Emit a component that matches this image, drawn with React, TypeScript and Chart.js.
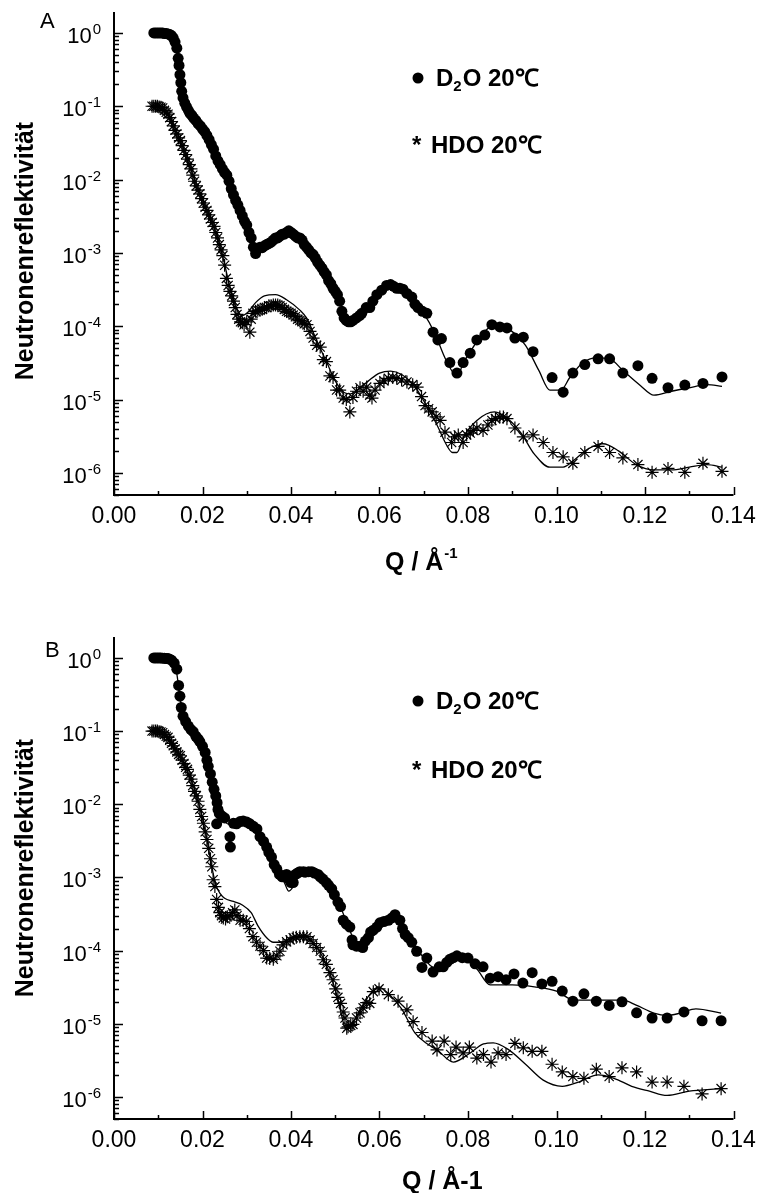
import React, { useEffect, useRef } from "react";
import { Chart, registerables } from "chart.js";
Chart.register(...registerables);

const FONT = "'Liberation Sans', Arial, Helvetica, sans-serif";

// ---------- Axis ticks ----------
const xTickValues = [0, 0.02, 0.04, 0.06, 0.08, 0.1, 0.12, 0.14];
const xTickLabels = ["0.00", "0.02", "0.04", "0.06", "0.08", "0.10", "0.12", "0.14"];
const xMinorValues = [0.01, 0.03, 0.05, 0.07, 0.09, 0.11, 0.13];
const yTickValues = [1, 1e-1, 1e-2, 1e-3, 1e-4, 1e-5, 1e-6];
const yTickExponents = ["0", "-1", "-2", "-3", "-4", "-5", "-6"];
const yMin = 5e-7;
const yMax = 1.93;

// ---------- Panel A ----------
const qD2O_A = [0.009, 0.0094, 0.0098, 0.0102, 0.0106, 0.011, 0.0114, 0.0118, 0.0122, 0.0126, 0.013, 0.0134, 0.0138, 0.0142, 0.0145, 0.0147, 0.0149, 0.0151, 0.0153, 0.0156, 0.016, 0.0164, 0.0168, 0.0172, 0.0176, 0.018, 0.0185, 0.019, 0.0195, 0.02, 0.0205, 0.021, 0.0215, 0.022, 0.0225, 0.023, 0.0235, 0.024, 0.0245, 0.025, 0.0255, 0.026, 0.0265, 0.027, 0.0275, 0.028, 0.0285, 0.029, 0.0295, 0.03, 0.0305, 0.031, 0.0315, 0.032, 0.0325, 0.033, 0.0335, 0.034, 0.0345, 0.035, 0.0355, 0.036, 0.0365, 0.037, 0.0375, 0.038, 0.0385, 0.039, 0.0395, 0.04, 0.0405, 0.041, 0.0415, 0.042, 0.0425, 0.043, 0.0435, 0.044, 0.0445, 0.045, 0.0455, 0.046, 0.0465, 0.047, 0.0475, 0.048, 0.0485, 0.049, 0.0495, 0.05, 0.0505, 0.051, 0.0515, 0.052, 0.0525, 0.053, 0.0535, 0.054, 0.0548, 0.0555, 0.056, 0.057, 0.0578, 0.0585, 0.0594, 0.0605, 0.0616, 0.0625, 0.0632, 0.0639, 0.0646, 0.0653, 0.0662, 0.0673, 0.068, 0.0687, 0.0697, 0.0707, 0.0721, 0.0732, 0.074, 0.0759, 0.0775, 0.0789, 0.0805, 0.082, 0.0838, 0.0854, 0.0872, 0.0888, 0.0906, 0.0925, 0.0947, 0.099, 0.1015, 0.1037, 0.1064, 0.1094, 0.112, 0.115, 0.1184, 0.1216, 0.1252, 0.129, 0.1331, 0.1374];
const rD2O_A = [1.0, 1.0, 1.0, 1.0, 1.0, 1.0, 0.98, 0.98, 0.97, 0.95, 0.92, 0.85, 0.75, 0.62, 0.45, 0.36, 0.27, 0.21, 0.16, 0.13, 0.11, 0.098, 0.088, 0.08, 0.075, 0.069, 0.064, 0.058, 0.054, 0.049, 0.045, 0.04, 0.035, 0.03, 0.026, 0.021, 0.018, 0.016, 0.014, 0.0125, 0.0115, 0.0095, 0.0075, 0.0062, 0.0052, 0.0045, 0.0038, 0.0032, 0.0027, 0.0024, 0.0019, 0.0016, 0.0012, 0.00098, 0.00115, 0.0012, 0.00118, 0.00125, 0.0013, 0.00135, 0.0014, 0.0015, 0.0016, 0.0016, 0.0017, 0.0018, 0.0018, 0.0019, 0.002, 0.0019, 0.0018, 0.0017, 0.0016, 0.0016, 0.0015, 0.0013, 0.0012, 0.0011, 0.001, 0.00095, 0.00085, 0.00075, 0.00068, 0.00062, 0.00055, 0.0005, 0.00042, 0.00038, 0.00033, 0.0003, 0.00027, 0.00022, 0.00016, 0.00013, 0.00012, 0.000115, 0.000115, 0.00012, 0.00013, 0.00014, 0.00015, 0.00018, 0.00018, 0.00022, 0.00027, 0.00031, 0.00036, 0.00037, 0.00035, 0.00033, 0.00033, 0.00032, 0.00028, 0.00025, 0.0002, 0.00018, 0.00016, 0.00015, 0.000083, 0.000065, 0.000068, 0.000032, 0.000023, 0.000032, 0.000043, 0.000065, 0.000076, 0.000105, 0.000098, 0.000095, 0.000069, 0.000071, 0.000045, 0.00002, 0.0000126, 0.000023, 0.00003, 0.000036, 0.000036, 0.000023, 0.000029, 0.0000195, 0.0000145, 0.0000158, 0.0000166, 0.0000204];

const qHDO_A = [0.0086, 0.009, 0.0094, 0.0098, 0.0102, 0.0106, 0.011, 0.0114, 0.0118, 0.0122, 0.0126, 0.013, 0.0134, 0.0138, 0.0142, 0.0146, 0.015, 0.0154, 0.0158, 0.0162, 0.0166, 0.017, 0.0174, 0.0178, 0.0182, 0.0186, 0.019, 0.0194, 0.0198, 0.0202, 0.0206, 0.021, 0.0214, 0.0218, 0.0222, 0.0226, 0.023, 0.0234, 0.0238, 0.0242, 0.0246, 0.025, 0.0254, 0.0258, 0.0262, 0.0266, 0.027, 0.0274, 0.0278, 0.0282, 0.0286, 0.029, 0.0294, 0.03, 0.0307, 0.031, 0.0314, 0.032, 0.0325, 0.033, 0.0335, 0.034, 0.0345, 0.035, 0.0355, 0.036, 0.0365, 0.037, 0.0375, 0.038, 0.0385, 0.039, 0.0395, 0.04, 0.0405, 0.041, 0.0415, 0.042, 0.0425, 0.043, 0.0436, 0.0443, 0.045, 0.0458, 0.0466, 0.0473, 0.048, 0.0488, 0.0495, 0.0503, 0.051, 0.0518, 0.0525, 0.0533, 0.054, 0.0548, 0.0556, 0.0563, 0.0571, 0.0578, 0.0583, 0.059, 0.0601, 0.061, 0.062, 0.063, 0.0639, 0.065, 0.0662, 0.0675, 0.0685, 0.0695, 0.0703, 0.0711, 0.0719, 0.0728, 0.0737, 0.0748, 0.0763, 0.077, 0.0778, 0.0789, 0.0797, 0.0805, 0.0812, 0.082, 0.0834, 0.0845, 0.0854, 0.0862, 0.0872, 0.088, 0.0888, 0.0906, 0.0925, 0.0947, 0.097, 0.0992, 0.1015, 0.1037, 0.1064, 0.1094, 0.112, 0.115, 0.1184, 0.1216, 0.1252, 0.129, 0.1331, 0.1374];
const rHDO_A = [0.1, 0.1, 0.1, 0.1, 0.098, 0.097, 0.095, 0.088, 0.083, 0.078, 0.07, 0.062, 0.054, 0.047, 0.042, 0.037, 0.034, 0.029, 0.025, 0.022, 0.019, 0.016, 0.014, 0.0115, 0.0095, 0.0082, 0.0072, 0.0064, 0.0055, 0.0048, 0.0042, 0.0038, 0.0033, 0.0029, 0.0026, 0.0023, 0.0019, 0.0016, 0.0013, 0.0011, 0.00092, 0.00068, 0.00045, 0.00036, 0.0003, 0.00026, 0.00022, 0.00018, 0.000145, 0.000125, 0.000115, 0.000112, 0.000105, 0.000115, 0.000083, 0.000125, 0.00015, 0.00016, 0.000165, 0.000165, 0.00017, 0.00018, 0.00018, 0.00019, 0.00019, 0.000195, 0.000195, 0.000195, 0.00019, 0.00018, 0.00017, 0.00016, 0.000155, 0.00015, 0.000142, 0.000135, 0.000125, 0.00012, 0.000115, 0.000108, 0.000105, 0.000085, 0.000069, 0.000055, 0.000052, 0.000035, 0.000033, 0.000021, 0.00002, 0.0000135, 0.0000135, 0.0000105, 0.00001, 0.0000068, 0.0000107, 0.000013, 0.0000145, 0.000013, 0.0000148, 0.0000115, 0.0000105, 0.0000135, 0.0000166, 0.000018, 0.0000195, 0.00002, 0.0000195, 0.0000185, 0.0000174, 0.000016, 0.0000148, 0.000011, 0.0000083, 0.0000075, 0.0000068, 0.0000058, 0.0000052, 0.0000036, 0.0000026, 0.0000031, 0.0000033, 0.0000026, 0.0000033, 0.0000035, 0.0000038, 0.0000041, 0.0000038, 0.0000045, 0.0000052, 0.0000055, 0.0000058, 0.0000058, 0.0000055, 0.0000041, 0.0000031, 0.0000033, 0.0000026, 0.0000019, 0.00000166, 0.00000135, 0.0000019, 0.0000023, 0.0000019, 0.0000016, 0.0000013, 0.00000102, 0.00000115, 0.00000102, 0.00000135, 0.00000105];

const qFitD2O_A = [0.009, 0.0125, 0.0135, 0.0145, 0.0152, 0.016, 0.018, 0.02, 0.022, 0.024, 0.026, 0.028, 0.03, 0.0315, 0.032, 0.033, 0.035, 0.0375, 0.0395, 0.0415, 0.044, 0.047, 0.049, 0.051, 0.0525, 0.054, 0.056, 0.058, 0.06, 0.0625, 0.065, 0.0675, 0.07, 0.0725, 0.075, 0.0775, 0.079, 0.081, 0.083, 0.0855, 0.0875, 0.0905, 0.093, 0.096, 0.0985, 0.101, 0.103, 0.106, 0.109, 0.112, 0.115, 0.119, 0.122, 0.126, 0.13, 0.134, 0.1374];
const rFitD2O_A = [1.0, 1.0, 0.9, 0.4, 0.17, 0.11, 0.07, 0.05, 0.03, 0.016, 0.0095, 0.0045, 0.0022, 0.0013, 0.0011, 0.0011, 0.0013, 0.0017, 0.0019, 0.0017, 0.0011, 0.00065, 0.0004, 0.00022, 0.00013, 0.00012, 0.00015, 0.0002, 0.00029, 0.00036, 0.00031, 0.00023, 0.00015, 0.00008, 0.000035, 0.000021, 0.000032, 0.00005, 0.000075, 0.0001, 0.0001, 0.00008, 0.000055, 0.000025, 0.0000135, 0.0000135, 0.00002, 0.000032, 0.000037, 0.000036, 0.000025, 0.0000155, 0.0000115, 0.000013, 0.0000145, 0.000016, 0.0000151];

const qFitHDO_A = [0.0086, 0.011, 0.013, 0.015, 0.017, 0.019, 0.021, 0.023, 0.024, 0.025, 0.026, 0.027, 0.028, 0.029, 0.03, 0.032, 0.034, 0.0365, 0.039, 0.042, 0.0435, 0.046, 0.048, 0.05, 0.052, 0.0535, 0.055, 0.0575, 0.06, 0.0625, 0.065, 0.068, 0.0705, 0.073, 0.075, 0.0765, 0.0775, 0.079, 0.082, 0.086, 0.089, 0.092, 0.095, 0.0985, 0.1015, 0.104, 0.107, 0.1105, 0.114, 0.118, 0.122, 0.126, 0.13, 0.134, 0.1374];
const rFitHDO_A = [0.1, 0.095, 0.062, 0.034, 0.016, 0.0072, 0.0038, 0.0019, 0.0012, 0.0007, 0.00038, 0.00022, 0.00016, 0.00014, 0.00015, 0.00021, 0.00026, 0.00027, 0.00023, 0.000166, 0.00013, 0.00006, 0.000033, 0.000018, 0.0000125, 0.000012, 0.0000135, 0.000018, 0.000023, 0.0000245, 0.000022, 0.000015, 0.0000085, 0.0000045, 0.0000025, 0.0000019, 0.0000019, 0.0000031, 0.0000052, 0.0000068, 0.0000055, 0.0000035, 0.0000018, 0.0000012, 0.0000012, 0.0000015, 0.0000021, 0.0000025, 0.000002, 0.0000013, 0.0000011, 0.0000011, 0.0000012, 0.0000013, 0.0000012];

// ---------- Panel B ----------
const qD2O_B = [0.009, 0.0094, 0.0098, 0.0102, 0.0106, 0.011, 0.0114, 0.0118, 0.0122, 0.0126, 0.013, 0.0136, 0.0142, 0.0146, 0.0149, 0.0152, 0.0156, 0.0162, 0.0168, 0.0174, 0.0179, 0.0185, 0.019, 0.0194, 0.02, 0.0206, 0.021, 0.0213, 0.0218, 0.0222, 0.0226, 0.023, 0.0232, 0.0233, 0.0235, 0.0238, 0.0244, 0.025, 0.0262, 0.0263, 0.027, 0.0277, 0.0285, 0.0292, 0.03, 0.0307, 0.0315, 0.0323, 0.033, 0.0338, 0.0345, 0.035, 0.0356, 0.0362, 0.0368, 0.0374, 0.038, 0.0385, 0.039, 0.0395, 0.04, 0.0405, 0.041, 0.0415, 0.042, 0.0428, 0.0432, 0.044, 0.0447, 0.0453, 0.0461, 0.0466, 0.0472, 0.048, 0.0485, 0.0492, 0.0498, 0.0506, 0.0512, 0.0518, 0.0525, 0.0533, 0.0538, 0.054, 0.0548, 0.0556, 0.0562, 0.0568, 0.0575, 0.058, 0.0586, 0.0594, 0.0601, 0.061, 0.062, 0.0628, 0.0635, 0.0646, 0.0652, 0.0658, 0.0665, 0.0673, 0.0684, 0.0696, 0.0707, 0.0721, 0.0735, 0.0744, 0.0752, 0.0759, 0.0767, 0.0775, 0.0787, 0.08, 0.0816, 0.0834, 0.085, 0.0868, 0.0886, 0.0904, 0.0924, 0.0945, 0.0967, 0.099, 0.1013, 0.1037, 0.1062, 0.109, 0.1119, 0.1148, 0.1181, 0.1216, 0.125, 0.1288, 0.1329, 0.1372];
const rD2O_B = [1.0, 1.0, 1.0, 1.0, 1.0, 0.99, 0.99, 0.98, 0.98, 0.96, 0.93, 0.85, 0.7, 0.42, 0.3, 0.21, 0.16, 0.135, 0.117, 0.105, 0.098, 0.085, 0.078, 0.072, 0.062, 0.051, 0.04, 0.033, 0.026, 0.02, 0.016, 0.013, 0.0054, 0.0105, 0.0085, 0.0075, 0.0069, 0.0065, 0.0036, 0.0026, 0.0055, 0.0054, 0.0058, 0.0059, 0.0057, 0.0054, 0.005, 0.0046, 0.0036, 0.0031, 0.0026, 0.0022, 0.0019, 0.0015, 0.0013, 0.0011, 0.00102, 0.00105, 0.0011, 0.00095, 0.00085, 0.00085, 0.0011, 0.00115, 0.0012, 0.0012, 0.00118, 0.0012, 0.0012, 0.00115, 0.0011, 0.00102, 0.00095, 0.00085, 0.00078, 0.0007, 0.00058, 0.00046, 0.0004, 0.00026, 0.00023, 0.00021, 0.00014, 0.00012, 0.000115, 0.000115, 0.00011, 0.000135, 0.00015, 0.00018, 0.00019, 0.00021, 0.00024, 0.00025, 0.00026, 0.00028, 0.00031, 0.00026, 0.0002, 0.000166, 0.00015, 0.00013, 0.000098, 0.000059, 0.000079, 0.000051, 0.00006, 0.00006, 0.000069, 0.000076, 0.00008, 0.000085, 0.00008, 0.000079, 0.000066, 0.00006, 0.000042, 0.000044, 0.00004, 0.000048, 0.000036, 0.00005, 0.000035, 0.000038, 0.000028, 0.0000204, 0.0000257, 0.0000204, 0.0000178, 0.00002, 0.0000141, 0.000012, 0.000012, 0.0000145, 0.000011, 0.000011];

const qHDO_B = [0.0086, 0.009, 0.0094, 0.0098, 0.0102, 0.0106, 0.011, 0.0114, 0.0118, 0.0122, 0.0126, 0.013, 0.0134, 0.0138, 0.0142, 0.0146, 0.015, 0.0154, 0.0158, 0.0162, 0.0166, 0.017, 0.0174, 0.0178, 0.0182, 0.0186, 0.019, 0.0194, 0.0198, 0.0202, 0.0206, 0.021, 0.0214, 0.0218, 0.0221, 0.0224, 0.0228, 0.0232, 0.0236, 0.0239, 0.0243, 0.0247, 0.0252, 0.0256, 0.0262, 0.0268, 0.0273, 0.0278, 0.0285, 0.0292, 0.0299, 0.0306, 0.0314, 0.0322, 0.033, 0.0338, 0.0345, 0.0352, 0.036, 0.0368, 0.0375, 0.0382, 0.039, 0.0398, 0.0405, 0.0412, 0.042, 0.0428, 0.0436, 0.0443, 0.045, 0.0458, 0.0466, 0.0473, 0.048, 0.0488, 0.0495, 0.0501, 0.0506, 0.0512, 0.0518, 0.0522, 0.0526, 0.0529, 0.0535, 0.054, 0.0548, 0.0556, 0.0563, 0.0571, 0.0578, 0.0586, 0.0599, 0.062, 0.0642, 0.0662, 0.0676, 0.0696, 0.0719, 0.073, 0.0746, 0.0761, 0.0773, 0.0789, 0.0803, 0.082, 0.0835, 0.0852, 0.0868, 0.0886, 0.0906, 0.0925, 0.0945, 0.0967, 0.099, 0.1013, 0.1037, 0.1062, 0.109, 0.1119, 0.1148, 0.1181, 0.1216, 0.125, 0.1288, 0.1329, 0.1372];
const rHDO_B = [0.1, 0.1, 0.1, 0.1, 0.098, 0.097, 0.095, 0.09, 0.085, 0.082, 0.075, 0.068, 0.063, 0.057, 0.052, 0.048, 0.046, 0.04, 0.036, 0.032, 0.03, 0.025, 0.022, 0.018, 0.015, 0.013, 0.011, 0.0085, 0.0068, 0.0055, 0.0042, 0.0033, 0.0025, 0.0018, 0.0014, 0.00093, 0.00075, 0.0005, 0.00039, 0.00033, 0.0003, 0.00028, 0.00027, 0.00029, 0.0003, 0.00033, 0.00036, 0.0003, 0.00026, 0.00026, 0.00025, 0.0002, 0.000155, 0.00013, 0.000115, 0.0001, 0.000079, 0.000078, 0.000076, 0.000085, 0.000098, 0.00012, 0.000132, 0.00014, 0.00015, 0.000152, 0.000155, 0.000155, 0.000155, 0.00014, 0.000125, 0.00011, 0.000098, 0.000075, 0.000065, 0.00005, 0.00004, 0.00003, 0.000023, 0.000019, 0.0000145, 0.000012, 0.0000087, 0.0000091, 0.0000095, 0.0000098, 0.000012, 0.0000141, 0.0000165, 0.0000195, 0.000019, 0.0000275, 0.00003, 0.000025, 0.0000204, 0.0000155, 0.0000107, 0.0000076, 0.0000058, 0.0000044, 0.0000058, 0.0000038, 0.0000048, 0.000004, 0.0000048, 0.0000034, 0.0000038, 0.000003, 0.000004, 0.0000038, 0.0000054, 0.0000047, 0.0000042, 0.0000042, 0.0000028, 0.0000022, 0.0000019, 0.0000018, 0.0000024, 0.0000019, 0.0000025, 0.0000022, 0.0000016, 0.0000016, 0.0000014, 0.0000011, 0.0000013];

const qFitD2O_B = [0.009, 0.0128, 0.0138, 0.0145, 0.0152, 0.016, 0.018, 0.02, 0.021, 0.022, 0.023, 0.024, 0.025, 0.027, 0.029, 0.031, 0.033, 0.035, 0.037, 0.0385, 0.0395, 0.0405, 0.042, 0.0445, 0.047, 0.049, 0.051, 0.053, 0.055, 0.057, 0.06, 0.0635, 0.066, 0.069, 0.0725, 0.076, 0.079, 0.082, 0.085, 0.09, 0.095, 0.1, 0.104, 0.108, 0.112, 0.115, 0.118, 0.122, 0.125, 0.128, 0.1315, 0.1372];
const rFitD2O_B = [1.0, 1.0, 0.85, 0.45, 0.22, 0.14, 0.097, 0.065, 0.045, 0.022, 0.012, 0.0075, 0.0058, 0.0052, 0.0057, 0.0053, 0.0038, 0.0021, 0.0012, 0.00085, 0.00065, 0.00075, 0.0011, 0.0012, 0.00095, 0.0007, 0.00042, 0.00021, 0.00012, 0.00014, 0.00023, 0.00028, 0.00017, 0.000095, 0.000058, 0.000072, 0.000078, 0.000056, 0.000034, 0.000034, 0.000032, 0.000028, 0.000021, 0.000021, 0.000021, 0.000021, 0.000018, 0.000014, 0.000013, 0.000014, 0.000016, 0.000014];

const qFitHDO_B = [0.0086, 0.011, 0.013, 0.015, 0.017, 0.019, 0.021, 0.022, 0.023, 0.024, 0.025, 0.027, 0.029, 0.031, 0.0325, 0.0345, 0.036, 0.038, 0.04, 0.043, 0.045, 0.047, 0.049, 0.0505, 0.052, 0.0525, 0.054, 0.056, 0.058, 0.0597, 0.062, 0.065, 0.068, 0.071, 0.073, 0.0767, 0.08, 0.0835, 0.0857, 0.089, 0.093, 0.097, 0.1013, 0.105, 0.1094, 0.113, 0.117, 0.121, 0.125, 0.13, 0.1372];
const rFitHDO_B = [0.1, 0.095, 0.068, 0.045, 0.025, 0.011, 0.0033, 0.0015, 0.0008, 0.0006, 0.00052, 0.00047, 0.00042, 0.00033, 0.00022, 0.00015, 0.00013, 0.00013, 0.00015, 0.00016, 0.00013, 0.000085, 0.000045, 0.000023, 0.0000095, 0.0000083, 0.0000105, 0.000017, 0.000026, 0.000032, 0.000026, 0.000016, 0.0000075, 0.0000052, 0.0000044, 0.000003, 0.0000038, 0.0000053, 0.0000055, 0.0000045, 0.0000028, 0.0000017, 0.0000014, 0.0000016, 0.000002, 0.0000018, 0.0000014, 0.0000012, 0.00000105, 0.0000012, 0.0000013];

type Pt = { x: number; y: number };
const pts = (q: number[], r: number[]): Pt[] => q.map((x, i) => ({ x, y: r[i] }));

type PanelOpts = {
  letter: string;
  letterX: number;
  letterY: number;
  yTitleY: number;
  xTitleX: number;
  xTitleY: number;
  xTitleSup: boolean;
  legendY1: number;
  legendY2: number;
};

function makeDecor(o: PanelOpts) {
  return {
    id: "decor",
    afterDraw(chart: any) {
      const ctx: CanvasRenderingContext2D = chart.ctx;
      const xs = chart.scales.x;
      const ys = chart.scales.y;
      const a = chart.chartArea;
      ctx.save();
      ctx.strokeStyle = "#000";
      ctx.fillStyle = "#000";
      // axis lines
      ctx.lineWidth = 2;
      ctx.beginPath();
      ctx.moveTo(a.left, a.top);
      ctx.lineTo(a.left, a.bottom);
      ctx.lineTo(a.right, a.bottom);
      ctx.stroke();
      // x ticks (inward)
      ctx.lineWidth = 1.5;
      ctx.beginPath();
      xTickValues.forEach((v) => {
        const px = Math.round(xs.getPixelForValue(v)) + 0.5;
        ctx.moveTo(px, a.bottom);
        ctx.lineTo(px, a.bottom - 8);
      });
      xMinorValues.forEach((v) => {
        const px = Math.round(xs.getPixelForValue(v)) + 0.5;
        ctx.moveTo(px, a.bottom);
        ctx.lineTo(px, a.bottom - 4);
      });
      // y ticks (inward)
      yTickValues.forEach((v) => {
        const py = Math.round(ys.getPixelForValue(v)) + 0.5;
        ctx.moveTo(a.left, py);
        ctx.lineTo(a.left + 9, py);
      });
      for (let d = -7; d <= 0; d++) {
        for (let m = 2; m <= 9; m++) {
          const v = m * Math.pow(10, d);
          if (v < yMin || v > yMax) continue;
          const py = Math.round(ys.getPixelForValue(v)) + 0.5;
          ctx.moveTo(a.left, py);
          ctx.lineTo(a.left + 5, py);
        }
      }
      ctx.stroke();

      // x tick labels
      ctx.font = `23px ${FONT}`;
      ctx.textAlign = "center";
      ctx.textBaseline = "alphabetic";
      xTickValues.forEach((v, i) => {
        ctx.fillText(xTickLabels[i], xs.getPixelForValue(v), a.bottom + 28);
      });
      // y tick labels 10^n
      yTickValues.forEach((v, i) => {
        const py = ys.getPixelForValue(v);
        const right = a.left - 13;
        ctx.textAlign = "left";
        ctx.font = `15px ${FONT}`;
        const ew = ctx.measureText(yTickExponents[i]).width;
        ctx.fillText(yTickExponents[i], right - ew, py + 1);
        ctx.font = `22px ${FONT}`;
        const bw = ctx.measureText("10").width;
        ctx.fillText("10", right - ew - bw - 1, py + 10);
      });

      // panel letter
      ctx.font = `22px ${FONT}`;
      ctx.textAlign = "left";
      ctx.fillText(o.letter, o.letterX, o.letterY);

      // y title
      ctx.save();
      ctx.translate(33, o.yTitleY);
      ctx.rotate(-Math.PI / 2);
      ctx.font = `bold 25px ${FONT}`;
      ctx.textAlign = "center";
      ctx.fillText("Neutronenreflektivität", 0, 0);
      ctx.restore();

      // x title
      ctx.textAlign = "left";
      ctx.font = `bold 25px ${FONT}`;
      if (o.xTitleSup) {
        const base = "Q / Å";
        ctx.fillText(base, o.xTitleX, o.xTitleY);
        const w = ctx.measureText(base).width;
        ctx.font = `bold 15px ${FONT}`;
        ctx.fillText("-1", o.xTitleX + w + 1, o.xTitleY - 12);
      } else {
        ctx.fillText("Q / Å-1", o.xTitleX, o.xTitleY);
      }

      // legend text
      ctx.beginPath();
      ctx.arc(418, o.legendY1 - 8, 5.5, 0, Math.PI * 2);
      ctx.fill();
      let x = 436;
      ctx.font = `bold 24px ${FONT}`;
      ctx.fillText("D", x, o.legendY1);
      x += ctx.measureText("D").width;
      ctx.font = `bold 15px ${FONT}`;
      ctx.fillText("2", x, o.legendY1 + 5);
      x += ctx.measureText("2").width + 1;
      ctx.font = `bold 24px ${FONT}`;
      ctx.fillText("O 20℃", x, o.legendY1);
      ctx.fillText("*", 412, o.legendY2);
      ctx.fillText("HDO 20℃", 431, o.legendY2);
      ctx.restore();
    },
  };
}

function Panel(props: {
  height: number;
  padTop: number;
  padBottom: number;
  d2o: Pt[];
  hdo: Pt[];
  fitD2O: Pt[];
  fitHDO: Pt[];
  opts: PanelOpts;
}) {
  const ref = useRef<HTMLCanvasElement | null>(null);
  useEffect(() => {
    if (!ref.current) return;
    const lineStyle = {
      showLine: true,
      pointRadius: 0,
      borderColor: "#000",
      backgroundColor: "#000",
      borderWidth: 1.3,
      cubicInterpolationMode: "monotone" as const,
    };
    const chart = new Chart(ref.current, {
      type: "scatter",
      data: {
        datasets: [
          { label: "Fit D2O", data: props.fitD2O, ...lineStyle },
          { label: "Fit HDO", data: props.fitHDO, ...lineStyle },
          {
            label: "D2O 20℃",
            data: props.d2o,
            pointStyle: "circle",
            pointRadius: 5.5,
            backgroundColor: "#000",
            borderColor: "#000",
            borderWidth: 0,
          },
          {
            label: "HDO 20℃",
            data: props.hdo,
            pointStyle: "star",
            pointRadius: 6.5,
            backgroundColor: "#000",
            borderColor: "#000",
            borderWidth: 1.2,
          },
        ],
      },
      options: {
        animation: false,
        responsive: false,
        maintainAspectRatio: false,
        events: [],
        layout: {
          padding: { left: 114, right: 26.5, top: props.padTop, bottom: props.padBottom },
        },
        plugins: {
          legend: { display: false },
          tooltip: { enabled: false },
          title: { display: false },
        },
        scales: {
          x: { type: "linear", min: 0, max: 0.14, display: false },
          y: { type: "logarithmic", min: yMin, max: yMax, display: false },
        },
      },
      plugins: [makeDecor(props.opts)],
    } as any);
    return () => chart.destroy();
  }, []);
  return (
    <canvas
      ref={ref}
      width={760}
      height={props.height}
      style={{ display: "block", width: 760, height: props.height }}
    />
  );
}

export default function App() {
  useEffect(() => {
    document.body.style.margin = "0";
    document.body.style.background = "#fff";
  }, []);
  return (
    <div style={{ width: 760, height: 1193, background: "#fff", margin: 0 }}>
      <Panel
        height={596}
        padTop={12}
        padBottom={101}
        d2o={pts(qD2O_A, rD2O_A)}
        hdo={pts(qHDO_A, rHDO_A)}
        fitD2O={pts(qFitD2O_A, rFitD2O_A)}
        fitHDO={pts(qFitHDO_A, rFitHDO_A)}
        opts={{
          letter: "A",
          letterX: 40,
          letterY: 28,
          yTitleY: 251,
          xTitleX: 385,
          xTitleY: 570,
          xTitleSup: true,
          legendY1: 86,
          legendY2: 153,
        }}
      />
      <Panel
        height={597}
        padTop={41}
        padBottom={74}
        d2o={pts(qD2O_B, rD2O_B)}
        hdo={pts(qHDO_B, rHDO_B)}
        fitD2O={pts(qFitD2O_B, rFitD2O_B)}
        fitHDO={pts(qFitHDO_B, rFitHDO_B)}
        opts={{
          letter: "B",
          letterX: 45,
          letterY: 61,
          yTitleY: 272,
          xTitleX: 402,
          xTitleY: 593,
          xTitleSup: false,
          legendY1: 113,
          legendY2: 182,
        }}
      />
    </div>
  );
}
